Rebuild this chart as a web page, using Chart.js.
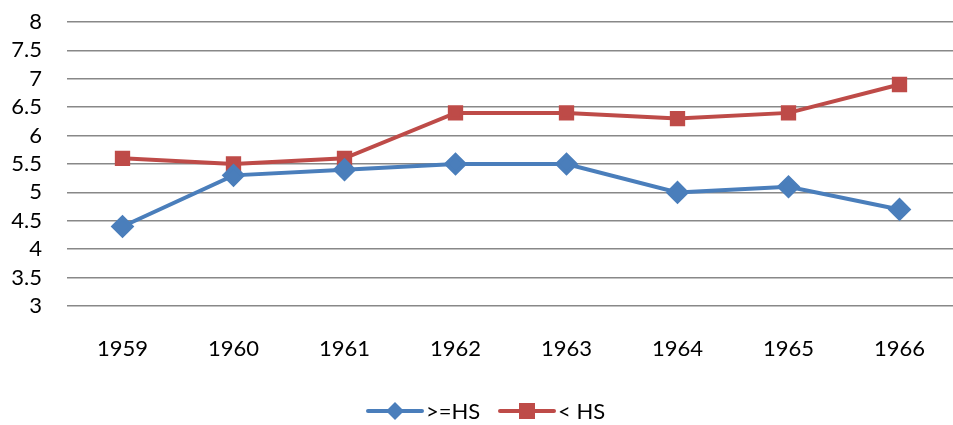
<!DOCTYPE html>
<html><head><meta charset="utf-8">
<script src="https://cdn.jsdelivr.net/npm/chart.js@4"></script>
<style>html,body{margin:0;padding:0;background:#fff;overflow:hidden}canvas{display:block}</style>
</head><body><canvas id="c" width="953" height="425" style="width:953px;height:425px"></canvas>
<script>
const years = ['1959','1960','1961','1962','1963','1964','1965','1966'];
const hsOrMore = [4.4, 5.3, 5.4, 5.5, 5.5, 5.0, 5.1, 4.7];
const lessThanHs = [5.6, 5.5, 5.6, 6.4, 6.4, 6.3, 6.4, 6.9];
const seriesNames = ['>=HS', '< HS'];
const FONT = 'Lato, "Open Sans", sans-serif';

const areaFix = {
  id: 'areaFix',
  afterLayout(chart) {
    const ca = chart.chartArea;
    ca.right = 955; ca.width = ca.right - ca.left;
    const xs = chart.scales.x;
    xs.right = 955; xs.width = xs.right - xs.left;
    xs.configure();
    xs._labelItems = null; xs._gridLineItems = null;
    const ys = chart.scales.y;
    ys._gridLineItems = null;
  }
};

const legendPlugin = {
  id: 'lineLegend',
  afterDraw(chart) {
    const ctx = chart.ctx;
    const items = [
      {x: 368, label: seriesNames[0], ds: chart.data.datasets[0]},
      {x: 500, label: seriesNames[1], ds: chart.data.datasets[1]}
    ];
    const y = 411;
    ctx.save();
    items.forEach(it => {
      ctx.strokeStyle = it.ds.borderColor;
      ctx.lineWidth = 4;
      ctx.lineCap = 'round';
      ctx.beginPath(); ctx.moveTo(it.x, y); ctx.lineTo(it.x + 54, y); ctx.stroke();
      ctx.fillStyle = it.ds.pointBackgroundColor;
      const cx = it.x + 27;
      if (it.ds.pointStyle === 'rectRot') {
        ctx.beginPath(); ctx.moveTo(cx, y - 9); ctx.lineTo(cx + 9, y); ctx.lineTo(cx, y + 9); ctx.lineTo(cx - 9, y); ctx.closePath(); ctx.fill();
      } else {
        ctx.fillRect(cx - 8, y - 8, 16, 16);
      }
      ctx.fillStyle = '#000';
      ctx.font = '22px ' + FONT;
      ctx.textBaseline = 'middle';
      ctx.textAlign = 'left';
      ctx.fillText(it.label, it.x + 58, y + 1);
    });
    ctx.restore();
  }
};

new Chart(document.getElementById('c'), {
  type: 'line',
  data: {
    labels: years,
    datasets: [
      {label: seriesNames[0], data: hsOrMore, borderColor: '#4A7EBB', backgroundColor: '#4A7EBB',
       pointBackgroundColor: '#4A7EBB', pointBorderColor: '#4A7EBB', pointStyle: 'rectRot',
       pointRadius: 9, borderWidth: 4, tension: 0},
      {label: seriesNames[1], data: lessThanHs, borderColor: '#BE4B48', backgroundColor: '#BE4B48',
       pointBackgroundColor: '#BE4B48', pointBorderColor: '#BE4B48', pointStyle: 'rect',
       pointRadius: 8, borderWidth: 4, tension: 0}
    ]
  },
  options: {
    responsive: false, animation: false,
    layout: {padding: {top: 22, right: 0, bottom: 0, left: 0}},
    plugins: {legend: {display: false}, tooltip: {enabled: false}},
    scales: {
      x: {
        offset: true,
        grid: {display: false, drawTicks: false},
        border: {display: false},
        ticks: {color: '#000', font: {family: FONT, size: 22}, padding: 30, maxRotation: 0, autoSkip: false},
        afterFit(s) { s.height = 119; s.paddingLeft = 0; s.paddingRight = 0; }
      },
      y: {
        min: 3, max: 8,
        grid: {color: '#888888', lineWidth: 1.5, drawTicks: false},
        border: {display: false},
        ticks: {stepSize: 0.5, autoSkip: false, color: '#000', font: {family: FONT, size: 22}, padding: 25,
                callback: v => String(v)},
        afterFit(s) { s.width = 67; s.paddingTop = 0; s.paddingBottom = 0; }
      }
    }
  },
  plugins: [areaFix, legendPlugin]
});
</script></body></html>
